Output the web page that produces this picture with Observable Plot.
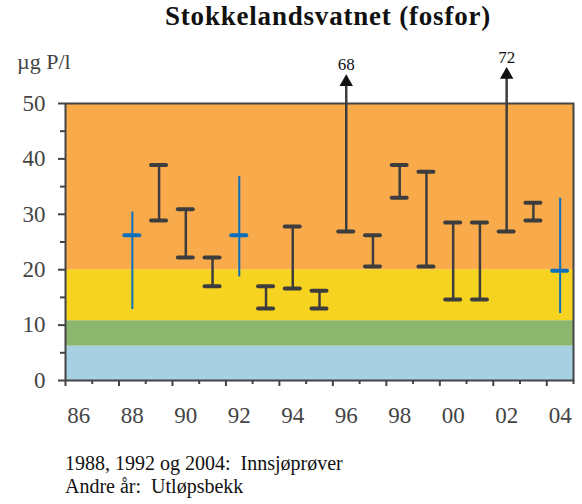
<!DOCTYPE html>
<html>
<head>
<meta charset="utf-8">
<script src="https://cdn.jsdelivr.net/npm/d3@7"></script>
<script src="https://cdn.jsdelivr.net/npm/@observablehq/plot@0.6"></script>
<style>
  html, body { margin: 0; padding: 0; background: #fff; }
  #wrap { position: relative; width: 582px; height: 504px; overflow: hidden; }
  #wrap svg { position: absolute; left: 0; top: 0; }
  .t { position: absolute; font-family: "Liberation Serif", "Times New Roman", serif; white-space: nowrap; }
  #title { left: 165px; top: 1px; font-size: 27px; font-weight: bold; color: #111; letter-spacing: 0.8px; }
  #ylab { left: 17px; top: 49px; font-size: 22px; color: #444; }
  #cap { left: 65px; top: 452px; font-size: 20px; line-height: 23px; color: #111; }
</style>
</head>
<body>
<div id="wrap">
  <div class="t" id="title">Stokkelandsvatnet (fosfor)</div>
  <div class="t" id="ylab">µg P/l</div>
  <div class="t" id="cap">1988, 1992 og 2004:&nbsp; Innsjøprøver<br>Andre år:&nbsp; Utløpsbekk</div>
</div>
<script>
// Years (categories)
const years     = [1988, 1989, 1990, 1991, 1992, 1993, 1994, 1995, 1996, 1997, 1998, 1999, 2000, 2001, 2002, 2003, 2004];
// Min / max phosphorus values (µg P/l)
const minVals   = [12.8, 28.9, 22.2, 17.0, 18.7, 13.0, 16.6, 13.0, 26.9, 20.6, 33.0, 20.6, 14.6, 14.6, 26.9, 28.9, 12.1];
const maxVals   = [30.4, 38.9, 30.9, 22.2, 36.8, 17.0, 27.8, 16.2, 68,   26.2, 38.9, 37.7, 28.5, 28.5, 72,   32.1, 32.9];
// Mean values (only for lake samples)
const meanVals  = [26.2, null, null, null, 26.2, null, null, null, null, null, null, null, null, null, null, null, 19.8];
// Sample type: lake samples (Innsjøprøver) vs outlet (Utløpsbekk)
const lakeYears = [1988, 1992, 2004];
// Off-scale values drawn as arrows
const offYears  = [1996, 2002];
const offValues = [68, 72];
const arrowTips = [54.6, 55.9];
// Class bands
const bandLow   = [0, 6.2, 10.8, 20];
const bandHigh  = [6.2, 10.8, 20, 50];
const bandColor = ["#a8d0e3", "#8cb66e", "#f5d320", "#f9aa4b"];
// Axis ticks
const yTicks      = [0, 10, 20, 30, 40, 50];
const yMinorTicks = [5, 15, 25, 35, 45];
const xLabelYears = [1986, 1988, 1990, 1992, 1994, 1996, 1998, 2000, 2002, 2004];

const rows = years.map((y, i) => ({
  year: y, lo: minVals[i], hi: maxVals[i], mean: meanVals[i],
  lake: lakeYears.includes(y), off: offYears.includes(y)
}));
const bands = bandLow.map((l, i) => ({lo: l, hi: bandHigh[i], color: bandColor[i]}));
const offs = offYears.map((y, i) => ({year: y, base: rows.find(r => r.year === y).lo, tip: arrowTips[i], label: String(offValues[i])}));

const darkRows = rows.filter(r => !r.lake && !r.off);
const lakeRows = rows.filter(r => r.lake);
const capHalf = 0.28;
const boundaries = d3.range(1985.5, 2005, 1);
const longTicks = boundaries.filter(b => Math.round(b - 0.5) % 2 === 1);
const shortTicks = boundaries.filter(b => Math.round(b - 0.5) % 2 === 0);

const dark = "#3d3d3d";
const blue = "#0a6fbd";
const serif = "Liberation Serif";

const chart = Plot.plot({
  width: 582,
  height: 504,
  marginLeft: 65,
  marginRight: 9,
  marginTop: 103,
  marginBottom: 124,
  style: {fontFamily: "Liberation Serif, serif", fontSize: "23px", color: "#444", background: "transparent", overflow: "visible"},
  x: {domain: [1985.5, 2004.5]},
  y: {domain: [0, 50]},
  marks: [
    Plot.rect(bands, {y1: "lo", y2: "hi", fill: "color"}),
    Plot.frame({stroke: "#444", strokeWidth: 2}),
    // y axis ticks
    Plot.axisY({ticks: yTicks, tickSize: 7, tickFormat: () => "", stroke: "#444", strokeWidth: 2, label: null}),
    Plot.axisY({ticks: yMinorTicks, tickSize: 5, tickFormat: () => "", stroke: "#444", strokeWidth: 2, label: null}),
    // y tick labels
    Plot.text(yTicks, {y: d => d, text: d => String(d), frameAnchor: "left", textAnchor: "end", dx: -20, fontSize: 23, fontFamily: serif, fill: "#444"}),
    // x axis ticks
    Plot.axisX({ticks: longTicks, tickSize: 6, tickFormat: () => "", stroke: "#444", strokeWidth: 2, label: null}),
    Plot.axisX({ticks: shortTicks, tickSize: 4, tickFormat: () => "", stroke: "#444", strokeWidth: 2, label: null}),
    // x tick labels
    Plot.text(xLabelYears, {x: d => d, text: d => String(d % 100).padStart(2, "0"), frameAnchor: "bottom", lineAnchor: "middle", dy: 35, fontSize: 23, fontFamily: serif, fill: "#444"}),
    // outlet ranges
    Plot.ruleX(darkRows, {x: "year", y1: "lo", y2: "hi", stroke: dark, strokeWidth: 2.5}),
    Plot.ruleY(darkRows, {y: "lo", x1: d => d.year - capHalf, x2: d => d.year + capHalf, stroke: dark, strokeWidth: 4, strokeLinecap: "round"}),
    Plot.ruleY(darkRows, {y: "hi", x1: d => d.year - capHalf, x2: d => d.year + capHalf, stroke: dark, strokeWidth: 4, strokeLinecap: "round"}),
    // off-scale arrows
    Plot.ruleX(offs, {x: "year", y1: "base", y2: "tip", stroke: dark, strokeWidth: 2.5}),
    Plot.ruleY(offs, {y: "base", x1: d => d.year - capHalf, x2: d => d.year + capHalf, stroke: dark, strokeWidth: 4, strokeLinecap: "round"}),
    Plot.dot(offs, {x: "year", y: "tip", symbol: "triangle", r: 5, fill: "#111", stroke: null, dy: 4}),
    Plot.text(offs, {x: "year", y: "tip", text: "label", dy: -13, fontSize: 17, fontFamily: serif, fill: "#111"}),
    // lake samples
    Plot.ruleX(lakeRows, {x: "year", y1: "lo", y2: "hi", stroke: blue, strokeWidth: 2}),
    Plot.ruleY(lakeRows, {y: "mean", x1: d => d.year - capHalf, x2: d => d.year + capHalf, stroke: blue, strokeWidth: 4, strokeLinecap: "round"})
  ]
});
document.getElementById("wrap").prepend(chart);
</script>
</body>
</html>
